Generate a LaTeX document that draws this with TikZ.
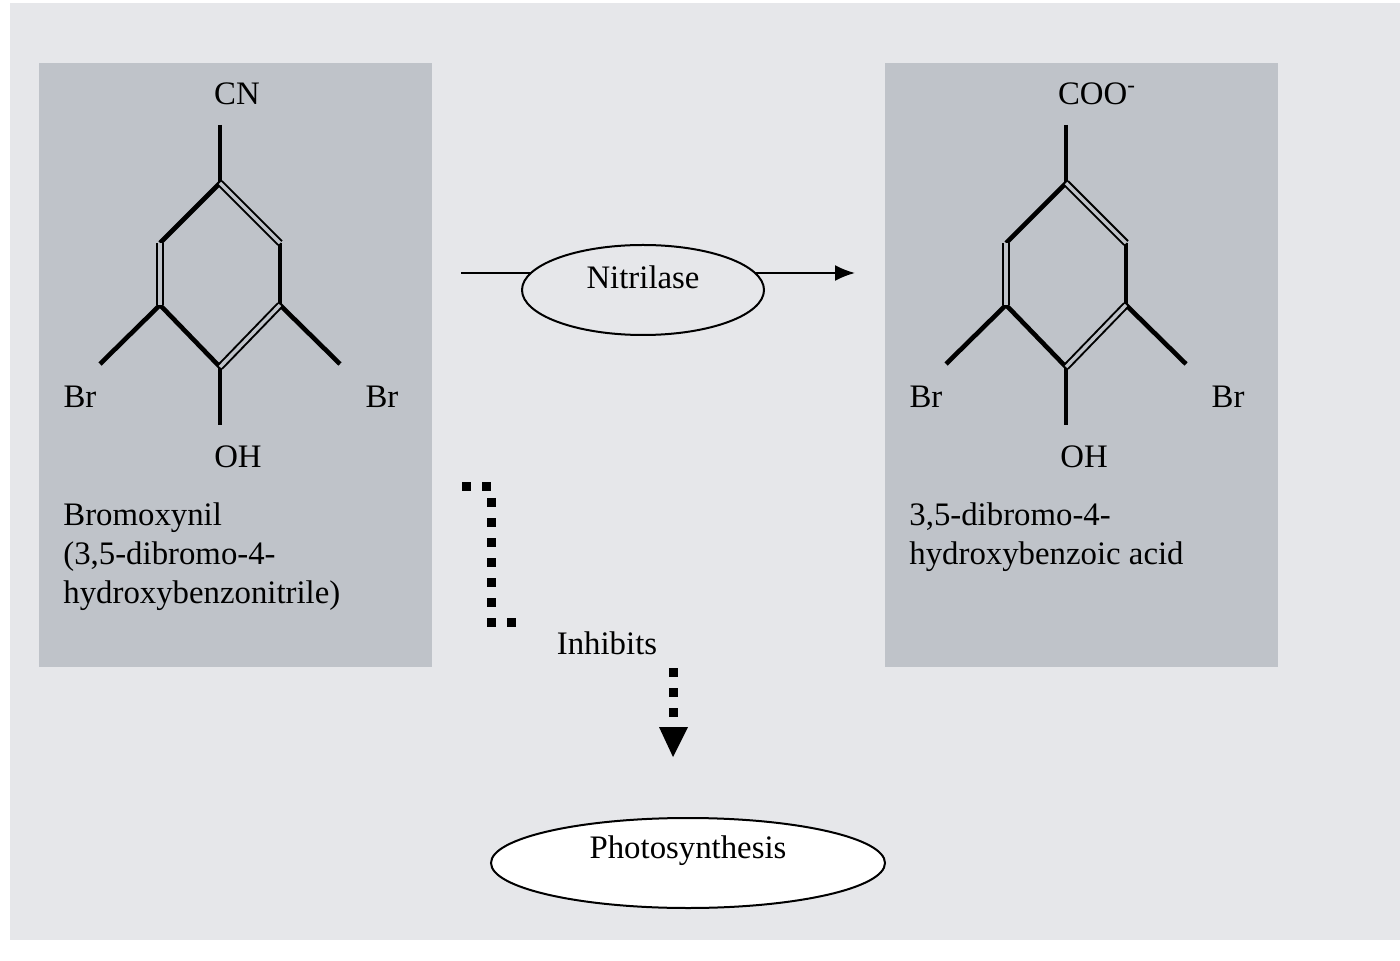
\documentclass[tikz,border=0pt]{standalone}
\usepackage{fontspec}
\setmainfont{Liberation Serif}
\usetikzlibrary{arrows.meta,shapes.geometric}
\begin{document}
\begin{tikzpicture}[x=0.5pt,y=-0.5pt,
  lbl/.style={font=\fontsize{16.4}{19.5}\selectfont,inner sep=0pt},
  bond/.style={line width=2.3pt,line cap=butt},
  dbl/.style={double distance=1.7pt,line width=1pt,draw=black,double=boxc},
  dot/.style={line width=4.5pt,dash pattern=on 4.5pt off 5.5pt}]
\definecolor{bg}{HTML}{E6E7EA}\definecolor{boxc}{HTML}{BFC3C9}
\useasboundingbox (0,0) rectangle (1400,961);
\fill[white] (0,0) rectangle (1400,961);
\fill[bg] (10,3) rectangle (1400,940);
\fill[boxc] (39,63) rectangle (432,667);
\fill[boxc] (885,63) rectangle (1278,667);
\foreach \o/\n in {0/L,846/R}{
 \begin{scope}[xshift=\o*0.5pt]
 \coordinate (\n s) at (220,125); \coordinate (\n t) at (220,183);
 \coordinate (\n ul) at (160,243); \coordinate (\n ur) at (280,243);
 \coordinate (\n ll) at (160,305); \coordinate (\n lr) at (280,305);
 \coordinate (\n b) at (220,367); \coordinate (\n o) at (220,425);
 \coordinate (\n bl) at (100,364); \coordinate (\n br) at (340,364);
 \draw[bond] (\n s)--(\n t); \draw[bond] (\n t)--(\n ul);
 \draw[bond] (\n ur)--(\n lr); \draw[bond] (\n ll)--(\n b);
 \draw[bond] (\n b)--(\n o); \draw[bond] (\n ll)--(\n bl); \draw[bond] (\n lr)--(\n br);
 \draw[dbl] (\n t)--(\n ur); \draw[dbl] (\n ul)--(\n ll); \draw[dbl] (\n lr)--(\n b);
 \node[lbl] (\n Br1) at (80,397) {Br};
 \node[lbl] (\n Br2) at (382,397) {Br};
 \node[lbl] (\n OH) at (238,457) {OH};
 \end{scope}}
\node[lbl] (cn) at (237,94) {CN};
\node[lbl] (coo) at (1097,94) {COO\textsuperscript{-}};
\node[lbl,align=left,anchor=west] (bx) at (63,557) {Bromoxynil\\(3,5-dibromo-4-\\hydroxybenzonitrile)};
\node[lbl,align=left,anchor=west] (hb) at (909,537) {3,5-dibromo-4-\\hydroxybenzoic acid};
\coordinate (a1) at (461,273); \coordinate (a2) at (855,273);
\draw[line width=1pt,-{Latex[length=10pt,width=8pt]}] (a1)--(a2);
\node[draw,line width=1pt,fill=bg,ellipse,minimum width=121pt,minimum height=45pt] (nit) at (643,290) {};
\node[lbl] at (643,277) {Nitrilase};
\node[draw,line width=1pt,fill=white,ellipse,minimum width=197pt,minimum height=45pt] (ph) at (688,863) {};
\node[lbl] at (688,851) {Photosynthesis};
\node[lbl] (inh) at (607,643) {Inhibits};
\coordinate (d1) at (462,487); \coordinate (d2) at (491,622); \coordinate (d3) at (523,622);
\draw[dot] (d1) -| (d2) -- (d3);
\coordinate (e1) at (673,668); \coordinate (e2) at (673,722);
\draw[dot] (e1)--(e2);
\fill (659,727) -- (688,727) -- (673,757) -- cycle;
\end{tikzpicture}
\end{document}
